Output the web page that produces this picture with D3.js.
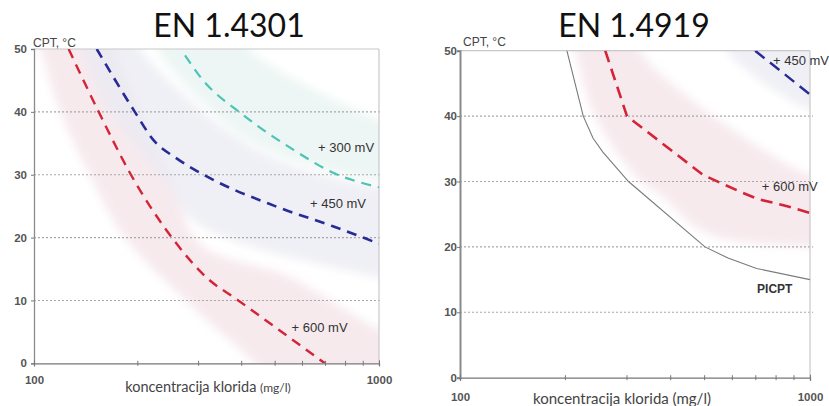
<!DOCTYPE html>
<html><head><meta charset="utf-8">
<script src="https://cdn.jsdelivr.net/npm/d3@7"></script>
<style>
html,body{margin:0;padding:0;background:#fff;}
svg{display:block;}
</style></head>
<body>
<script>
// ---------- DATA ----------
const titles = ["EN 1.4301", "EN 1.4919"];
const yTicks = [0, 10, 20, 30, 40, 50];
const yGrid = [10, 20, 30, 40];
const xMajorTicks = [100, 1000];
const xMinorTicks = [200, 300, 400, 500, 600, 700, 800, 900];
const yAxisLabel = "CPT, °C";
const xAxisLabelMain = "koncentracija klorida";
const xAxisLabelUnit = "(mg/l)";

// Left chart (EN 1.4301) curves: [chloride mg/l, CPT °C]
const left300 = [[274,49],[303,45.6],[404,39.5],[564,34],[737,30.3],[1000,28]];
const left450 = [[152,50],[196,40],[222,35.5],[259,32.6],[310,30],[500,25],[735,21.8],[900,20],[1000,19]];
const left600 = [[126,50],[154,40],[191,30],[251,20],[317,13.6],[391,10],[697,0]];
// scatter bands (polygons)
const leftBand600 = [[98,53],[104,50],[119,40],[145,30],[183,20],[274,10],[437,0],[480,-3],[1100,-3],[1100,5],[1000,5.5],[552,13.7],[303,19],[248,30],[203,40],[172,50],[165,53]];
const leftBand450 = [[130,53],[136,50],[166,40],[232,30],[303,22],[1000,13.6],[1100,13],[1100,28],[1000,28],[590,31],[396,35.5],[203,50],[198,53]];
const leftBand300 = [[222,53],[228,50],[420,35.5],[1000,29],[1100,29],[1100,38],[1000,38.7],[423,50],[415,53]];

// Right chart (EN 1.4919)
const rightPICPT = [[202,50],[225,40],[240,36.6],[256,34.5],[303,30],[501,20],[583,18.3],[704,16.7],[1000,15]];
const right600 = [[260,50],[300,40],[495,31],[560,29.7],[640,28.3],[711,27.3],[850,26.3],[1000,25.2]];
const right450 = [[697,50],[1000,43.3]];
const rightBand600 = [[205,53],[213,50],[243,40],[327,30],[373,28],[508,22],[1000,20],[1100,20],[1100,31],[1000,31],[485,41.5],[327,50],[318,53]];
const rightBand450 = [[560,53],[580,50],[700,46],[1000,41],[1100,41],[1100,53]];

const labelsLeft = [
  {text:"+ 300 mV", x:666, y:34.4},
  {text:"+ 450 mV", x:631, y:25.5},
  {text:"+ 600 mV", x:558, y:5.7}
];
const labelsRight = [
  {text:"+ 450 mV", x:784, y:48.5},
  {text:"+ 600 mV", x:728, y:29.2},
  {text:"PICPT", x:706, y:13.6, bold:true}
];

// ---------- DRAW ----------
const W = 829, H = 406;
const svg = d3.select("body").append("svg").attr("width", W).attr("height", H);
const defs = svg.append("defs");
const blur = defs.append("filter").attr("id","blur").attr("x","-20%").attr("y","-20%").attr("width","140%").attr("height","140%");
blur.append("feGaussianBlur").attr("stdDeviation", 5);

// checker texture pattern
function makePattern(id, color){
  const p = defs.append("pattern").attr("id", id).attr("patternUnits","userSpaceOnUse").attr("width",12).attr("height",12);
  p.append("rect").attr("width",12).attr("height",12).attr("fill",color).attr("opacity",0.6);
  p.append("rect").attr("width",6).attr("height",6).attr("fill",color);
  p.append("rect").attr("x",6).attr("y",6).attr("width",6).attr("height",6).attr("fill",color);
}
makePattern("pPink", "#f4e3e7");
makePattern("pBlue", "#e9eaf2");
makePattern("pTeal", "#e6f3f0");

const panels = [
  {id:0, x0:34, x1:379, yTop:49, yBot:363.3,
   title:{x:229, y:37},
   cpt:{x:33, y:47},
   yLabX:27,
   xLabY:384, xTitleY:392, xTitleX:208, xTitleSize:14.5, unitSize:12,
   bands:[{d:leftBand600, fill:"url(#pPink)"},{d:leftBand450, fill:"url(#pBlue)"},{d:leftBand300, fill:"url(#pTeal)"}],
   lines:[
     {d:left300, color:"#4cc3b5", dash:"10,7", w:2.2, curve:d3.curveMonotoneX},
     {d:left450, color:"#262b96", dash:"10,7", w:2.6, curve:d3.curveMonotoneX},
     {d:left600, color:"#d42437", dash:"10,7", w:2.4, curve:d3.curveMonotoneX}
   ],
   labels:labelsLeft,
   gridColor:"#a8a8a8", axisW:1.3},
  {id:1, x0:460, x1:810, yTop:50.7, yBot:377.7,
   title:{x:634, y:37},
   cpt:{x:463, y:46},
   yLabX:457,
   xLabY:401, xTitleY:404, xTitleX:622, xTitleSize:15, unitSize:15,
   bands:[{d:rightBand600, fill:"url(#pPink)"},{d:rightBand450, fill:"url(#pBlue)"}],
   lines:[
     {d:rightPICPT, color:"#7a7a7a", dash:null, w:1.1, curve:d3.curveLinear},
     {d:right600, color:"#d42437", dash:"12,7", w:2.6, curve:d3.curveLinear},
     {d:right450, color:"#262b96", dash:"12,7", w:2.4, curve:d3.curveLinear}
   ],
   labels:labelsRight,
   gridColor:"#a8a8a8", axisW:2}
];

panels.forEach(p => {
  const x = d3.scaleLog().domain([100,1000]).range([p.x0, p.x1]);
  const y = d3.scaleLinear().domain([0,50]).range([p.yBot, p.yTop]);
  const g = svg.append("g");

  const clipId = "clip"+p.id;
  defs.append("clipPath").attr("id", clipId).append("rect")
    .attr("x", p.x0).attr("y", p.yTop).attr("width", p.x1-p.x0).attr("height", p.yBot-p.yTop);

  // bands
  const bandG = g.append("g").attr("clip-path", `url(#${clipId})`);
  const bandInner = bandG.append("g").attr("filter","url(#blur)");
  const poly = d3.line().x(d=>x(d[0])).y(d=>y(d[1])).curve(d3.curveCatmullRomClosed.alpha(0.5));
  p.bands.forEach(b => {
    bandInner.append("path").attr("d", poly(b.d)).attr("fill", b.fill).attr("opacity", 0.9);
  });

  // gridlines
  g.selectAll(".grid").data(yGrid).enter().append("line")
    .attr("x1", p.x0).attr("x2", p.x1+3)
    .attr("y1", d=>y(d)).attr("y2", d=>y(d))
    .attr("stroke", p.gridColor).attr("stroke-width",1.1).attr("stroke-dasharray","2,2");

  // frame top & right
  g.append("line").attr("x1",p.x0).attr("x2",p.x1).attr("y1",y(50)).attr("y2",y(50)).attr("stroke","#c8c8c8").attr("stroke-width",1.2);
  g.append("line").attr("x1",p.x1).attr("x2",p.x1).attr("y1",y(50)).attr("y2",y(0)).attr("stroke","#c8c8c8").attr("stroke-width",1.2);

  // curves
  const lineG = g.append("g").attr("clip-path", `url(#${clipId})`);
  p.lines.forEach(l => {
    const ln = d3.line().x(d=>x(d[0])).y(d=>y(d[1])).curve(l.curve);
    const path = lineG.append("path").attr("d", ln(l.d)).attr("fill","none")
      .attr("stroke", l.color).attr("stroke-width", l.w).attr("stroke-linecap","butt");
    if (l.dash) path.attr("stroke-dasharray", l.dash);
  });

  // y axis
  const yAxis = d3.axisLeft(y).tickValues(yTicks).tickSize(3).tickFormat(d3.format("d"));
  const ya = g.append("g").attr("transform", `translate(${p.x0},0)`).call(yAxis);
  ya.select(".domain").attr("stroke","#8a8a8a").attr("stroke-width",p.axisW);
  ya.selectAll(".tick line").attr("stroke","#777");
  ya.selectAll(".tick text").attr("x", p.yLabX - p.x0).attr("font-family","Liberation Sans, Arial, sans-serif")
    .attr("font-size", 11.5).attr("font-weight","bold").attr("fill","#555");

  // x axis
  const xAxis = d3.axisBottom(x).tickValues(xMajorTicks).tickSize(3).tickFormat(d3.format("d"));
  const xa = g.append("g").attr("transform", `translate(0,${p.yBot})`).call(xAxis);
  xa.select(".domain").attr("stroke","#777").attr("stroke-width",1.3);
  xa.selectAll(".tick line").attr("stroke","#777").attr("y1",-3);
  xa.selectAll(".tick text").attr("y", p.xLabY - p.yBot).attr("dy",0)
    .attr("font-family","Liberation Sans, Arial, sans-serif").attr("font-size", 11.5).attr("font-weight","bold").attr("fill","#555");
  xa.selectAll(".minor").data(xMinorTicks).enter().append("line").attr("class","minor")
    .attr("x1", d=>x(d)).attr("x2", d=>x(d)).attr("y1",-2.5).attr("y2",2.5)
    .attr("stroke","#777").attr("stroke-width",1);

  // labels on curves
  p.labels.forEach(lb => {
    g.append("text").attr("x", x(lb.x)).attr("y", y(lb.y)).attr("dy","0.35em")
      .attr("font-family","Liberation Sans, Arial, sans-serif").attr("font-size", lb.bold ? 12 : 13)
      .attr("font-weight", lb.bold ? "bold" : "normal").attr("fill","#333")
      .text(lb.text);
  });

  // CPT label
  g.append("text").attr("x", p.cpt.x).attr("y", p.cpt.y)
    .attr("font-family","Liberation Sans, Arial, sans-serif").attr("font-size",12).attr("fill","#444")
    .text(yAxisLabel);

  // x title
  const xt = g.append("text").attr("x", p.xTitleX).attr("y", p.xTitleY).attr("text-anchor","middle")
    .attr("font-family","Lato, 'Open Sans', sans-serif").attr("fill","#444");
  xt.append("tspan").attr("font-size", p.xTitleSize).text(xAxisLabelMain + " ");
  xt.append("tspan").attr("font-size", p.unitSize).text(xAxisLabelUnit);

  // title
  g.append("text").attr("x", p.title.x).attr("y", p.title.y).attr("text-anchor","middle")
    .attr("font-family","Lato, 'Open Sans', sans-serif").attr("font-size",32).attr("fill","#111")
    .text(titles[p.id]);
});
</script>
</body></html>
